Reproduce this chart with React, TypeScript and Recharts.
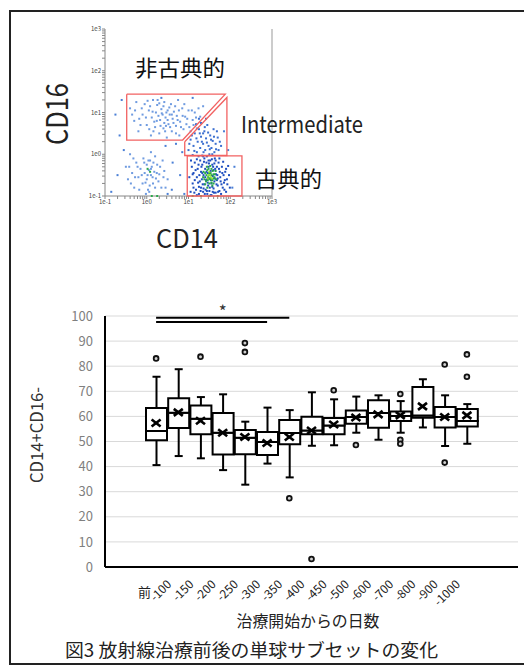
import {
  Bar,
  CartesianGrid,
  ComposedChart,
  ReferenceLine,
  Scatter,
  ScatterChart,
  XAxis,
  YAxis,
} from 'recharts';

// ---- flow plot (log10 units) ----
const decades = [-1, 0, 1, 2];
const minorSteps = [0.301, 0.477, 0.602, 0.699, 0.778, 0.845, 0.903, 0.954];

const classicalCells = [
  [1.05, -0.9], [1.1, -0.7], [1.12, -0.45], [1.15, -0.2], [1.18, -0.85], [1.2, -0.55], [1.22, -0.35],
  [1.25, -0.95], [1.27, -0.65], [1.28, -0.15], [1.3, -0.8], [1.3, -0.42], [1.32, -0.6], [1.33, -0.25],
  [1.35, -0.9], [1.36, -0.5], [1.38, -0.72], [1.38, -0.1], [1.4, -0.35], [1.41, -0.85], [1.42, -0.62],
  [1.43, -0.2], [1.45, -0.95], [1.46, -0.45], [1.47, -0.75], [1.48, -0.3], [1.5, -0.88], [1.5, -0.58],
  [1.52, -0.15], [1.53, -0.4], [1.55, -0.7], [1.55, -0.98], [1.57, -0.25], [1.58, -0.52], [1.6, -0.82],
  [1.6, -0.38], [1.62, -0.65], [1.63, -0.1], [1.65, -0.92], [1.66, -0.48], [1.68, -0.3], [1.7, -0.75],
  [1.7, -0.58], [1.72, -0.2], [1.74, -0.88], [1.75, -0.42], [1.77, -0.65], [1.8, -0.3], [1.82, -0.8],
  [1.84, -0.5], [1.87, -0.62], [1.9, -0.35], [1.93, -0.72], [1.97, -0.5], [1.08, -0.3], [1.15, -0.62],
  [1.25, -0.78], [1.35, -0.05], [1.45, -0.6], [1.58, -0.9], [1.65, -0.15], [1.78, -0.95], [1.9, -0.9],
  [1.02, -0.55], [1.12, -0.8], [1.17, -0.38], [1.2, -0.12], [1.23, -0.68], [1.26, -0.5], [1.29, -0.88],
  [1.31, -0.3], [1.34, -0.72], [1.37, -0.18], [1.39, -0.95], [1.4, -0.55], [1.43, -0.42], [1.44, -0.88],
  [1.46, -0.68], [1.49, -0.22], [1.51, -0.8], [1.54, -0.62], [1.56, -0.12], [1.57, -0.78], [1.59, -0.3],
  [1.61, -0.92], [1.63, -0.58], [1.64, -0.35], [1.67, -0.72], [1.69, -0.5], [1.71, -0.9], [1.73, -0.35],
  [1.76, -0.55], [1.79, -0.72], [1.81, -0.45], [1.83, -0.18], [1.86, -0.85], [1.88, -0.42], [1.92, -0.6],
  [1.95, -0.28], [1.99, -0.8], [1.06, -0.15], [1.1, -0.48], [1.14, -0.92], [1.24, -0.25], [1.33, -0.45],
  [1.36, -0.82], [1.44, -0.05], [1.53, -0.98], [1.62, -0.22], [1.68, -0.62], [1.74, -0.1], [1.85, -0.68],
  [1.2, -0.98], [1.48, -0.15],
];
const classicalCore = [
  [1.35, -0.55], [1.4, -0.45], [1.42, -0.65], [1.45, -0.38], [1.47, -0.55], [1.5, -0.7], [1.5, -0.45],
  [1.52, -0.6], [1.55, -0.5], [1.55, -0.35], [1.57, -0.62], [1.6, -0.48], [1.62, -0.55], [1.65, -0.4],
  [1.45, -0.8], [1.52, -0.28], [1.4, -0.72], [1.6, -0.7], [1.38, -0.6], [1.43, -0.5], [1.46, -0.62],
  [1.48, -0.35], [1.5, -0.58], [1.53, -0.45], [1.55, -0.68], [1.58, -0.4], [1.6, -0.58], [1.63, -0.48],
  [1.44, -0.3], [1.57, -0.75], [1.36, -0.42], [1.66, -0.6], [0.02, -0.35], [0.08, -0.42],
  [0.12, -1], [0.25, -1], [1.1, -1], [1.3, -1], [1.5, -1], [1.7, -1],
];
const classicalPeak = [[1.48, -0.5], [1.53, -0.55], [1.5, -0.42], [1.56, -0.58], [1.51, -0.5], [1.46, -0.58]];
const intermediateCells = [
  [1.0, 0.1], [1.05, 0.35], [1.1, -0.02], [1.12, 0.2], [1.15, 0.5], [1.2, 0.05], [1.22, 0.3], [1.25, 0.6],
  [1.28, 0.15], [1.3, 0.42], [1.33, -0.03], [1.35, 0.25], [1.38, 0.55], [1.4, 0.1], [1.42, 0.38],
  [1.45, 0.7], [1.48, 0.2], [1.5, 0.0], [1.52, 0.45], [1.55, 0.15], [1.58, 0.32], [1.6, 0.6], [1.62, 0.05],
  [1.65, 0.25], [1.7, 0.4], [1.72, 0.1], [1.78, 0.2], [1.3, 0.75], [1.25, 0.85], [1.18, 0.72],
  [1.02, 0.25], [1.08, 0.45], [1.14, 0.08], [1.19, 0.38], [1.24, -0.05], [1.27, 0.5], [1.32, 0.3],
  [1.36, 0.05], [1.39, 0.65], [1.44, 0.28], [1.47, 0.52], [1.51, 0.12], [1.54, 0.35], [1.57, 0.0],
  [1.61, 0.42], [1.66, 0.12], [1.68, 0.55], [1.75, 0.3], [1.42, 0.85], [1.35, 0.5],
];
const nonClassicalCells = [
  [-0.4, 1.1], [-0.3, 0.8], [-0.25, 1.25], [-0.2, 0.55], [-0.1, 0.95], [-0.05, 1.2], [0.0, 0.7],
  [0.05, 1.05], [0.1, 0.45], [0.12, 0.88], [0.15, 1.3], [0.2, 0.65], [0.22, 1.0], [0.25, 1.18], [0.3, 0.5],
  [0.32, 0.82], [0.35, 1.08], [0.38, 0.95], [0.4, 0.62], [0.42, 1.25], [0.45, 0.88], [0.48, 0.4],
  [0.5, 1.05], [0.52, 0.72], [0.55, 0.95], [0.58, 1.2], [0.6, 0.55], [0.62, 0.85], [0.65, 1.02],
  [0.7, 0.68], [0.72, 0.92], [0.75, 1.3], [0.78, 0.45], [0.8, 0.78], [0.85, 1.1], [0.88, 0.6],
  [0.92, 0.9], [0.95, 0.72], [1.0, 1.05], [1.05, 0.55], [1.1, 0.82], [1.15, 1.0], [1.2, 0.62],
  [1.28, 0.9], [1.35, 1.15], [0.18, 0.78], [0.28, 0.92], [0.42, 0.75], [0.08, 1.15], [-0.15, 0.7],
  [-0.35, 0.95], [-0.28, 1.05], [-0.18, 0.85], [-0.12, 1.1], [-0.02, 0.88], [0.02, 1.28], [0.06, 0.6],
  [0.14, 1.02], [0.16, 0.55], [0.24, 0.8], [0.26, 1.3], [0.33, 0.68], [0.36, 0.98], [0.4, 1.15],
  [0.44, 0.55], [0.47, 1.0], [0.5, 0.82], [0.54, 1.12], [0.56, 0.65], [0.6, 0.95], [0.64, 0.75],
  [0.68, 1.15], [0.7, 0.5], [0.74, 0.82], [0.77, 1.05], [0.82, 0.65], [0.86, 0.92], [0.9, 1.2],
  [0.97, 0.85], [1.02, 0.65], [1.08, 1.05], [1.12, 0.7], [1.18, 0.88], [1.24, 1.1], [0.3, 1.22], [0.46, 0.68],
];
const lymphCells = [
  [-0.5, -0.3], [-0.45, -0.6], [-0.4, 0.0], [-0.35, -0.45], [-0.3, -0.8], [-0.25, -0.2], [-0.2, -0.55],
  [-0.15, -0.35], [-0.1, -0.7], [-0.08, -0.1], [-0.05, -0.45], [0.0, -0.25], [0.0, -0.6], [0.03, -0.85],
  [0.05, -0.38], [0.08, -0.15], [0.1, -0.5], [0.12, -0.3], [0.15, -0.7], [0.18, -0.42], [0.2, -0.05],
  [0.22, -0.58], [0.25, -0.25], [0.3, -0.48], [0.35, -0.8], [0.38, -0.15], [0.42, -0.4], [0.5, -0.6],
  [-0.02, -0.95], [0.1, 0.05], [-0.42, -0.3], [-0.38, -0.7], [-0.28, -0.55], [-0.22, -0.3], [-0.18, -0.85],
  [-0.12, -0.5], [-0.06, -0.2], [-0.03, -0.68], [0.02, -0.5], [0.04, -0.15], [0.07, -0.75], [0.1, -0.35],
  [0.14, -0.55], [0.16, -0.2], [0.2, -0.8], [0.24, -0.45], [0.28, -0.65], [0.32, -0.3], [0.4, -0.55],
  [0.45, -0.8], [-0.32, -0.1], [0.06, -0.9],
];
const strayCells = [
  [-0.75, 0.95], [-0.65, 0.45], [-0.7, -0.5], [-0.55, 0.1], [0.45, 0.2], [0.62, -0.2], [0.7, 0.25],
  [0.8, -0.5], [0.85, 0.05], [0.6, -0.85], [-0.85, -0.9], [2.05, -0.8], [2.1, -0.3], [1.85, 0.55],
  [1.95, 0.1], [0.35, 1.35], [-0.6, 1.3], [0.9, -0.95], [0.5, -0.95], [1.1, 1.35],
];

const gateNonClassical = [[-0.48, 1.44], [1.88, 1.44], [0.86, 0.34], [-0.48, 0.34], [-0.48, 1.44]];
const gateIntermediate = [[0.91, 0.3], [1.92, 1.36], [1.92, -0.03], [0.91, -0.03], [0.91, 0.3]];
const gateClassical = [[0.97, -0.04], [2.28, -0.04], [2.28, -1], [0.97, -1], [0.97, -0.04]];

// ---- box plot ----
const categories = ['前', '-100', '-150', '-200', '-250', '-300', '-350', '-400', '-450', '-500', '-600', '-700', '-800', '-900', '-1000'];
const whiskerLow = [40.6, 44.2, 43.3, 38.6, 32.8, 41.2, 35.7, 48.3, 48.5, 53.5, 50.7, 53.5, 55.6, 48.2, 49.1];
const q1 = [50.5, 55.4, 52.9, 44.8, 44.9, 44.6, 48.9, 52.9, 52.9, 57.1, 55.5, 58.2, 59.5, 55.6, 56.0];
const medians = [54.2, 61.5, 59.1, 53.5, 51.5, 49.8, 53.4, 54.4, 56.4, 59.8, 61.4, 60.2, 60.4, 59.8, 58.2];
const q3 = [63.3, 67.2, 64.3, 61.4, 54.6, 53.8, 58.6, 59.9, 59.4, 62.4, 66.4, 62.0, 71.7, 63.7, 62.9];
const whiskerHigh = [75.8, 78.8, 67.7, 68.8, 57.9, 63.5, 62.5, 69.6, 66.8, 67.9, 68.4, 66.1, 74.8, 68.4, 64.9];
const means = [57.4, 61.6, 58.3, 53.5, 51.8, 49.4, 51.8, 54.4, 56.8, 59.6, 60.8, 60.4, 64.0, 59.8, 60.4];
const outliers = [[83.1], [], [83.8], [], [89.2, 85.7], [], [27.4], [3.2], [70.4], [48.6], [], [68.9, 50.7, 49.1], [], [80.7, 41.6], [84.7, 75.8]];
const yTicks = [0, 10, 20, 30, 40, 50, 60, 70, 80, 90, 100];

const boxData = categories.map((cat, i) => ({
  cat,
  base: whiskerLow[i],
  lowW: q1[i] - whiskerLow[i],
  boxLo: medians[i] - q1[i],
  boxHi: q3[i] - medians[i],
  highW: whiskerHigh[i] - q3[i],
  mean: means[i],
  out1: outliers[i][0] ?? null,
  out2: outliers[i][1] ?? null,
  out3: outliers[i][2] ?? null,
}));

const toPts = (arr: number[][]) => arr.map(([x, y]) => ({ x, y }));
const flowTicks = [...decades.flatMap((d) => [d, ...minorSteps.map((m) => d + m)]), 3];
const fmtLog = (v: number) => (Number.isInteger(v) ? `1e${v}` : '');

const dot = (color: string) => (p: any) =>
  p.cx == null ? <g /> : <rect x={p.cx - 1} y={p.cy - 1} width={2} height={2} fill={color} />;

const LowWhisker = (p: any) => {
  const cx = p.x + p.width / 2;
  return (
    <g stroke="#000" strokeWidth={2}>
      <line x1={cx} y1={p.y} x2={cx} y2={p.y + p.height} />
      <line x1={cx - 4} y1={p.y + p.height} x2={cx + 4} y2={p.y + p.height} />
    </g>
  );
};
const HighWhisker = (p: any) => {
  const cx = p.x + p.width / 2;
  return (
    <g stroke="#000" strokeWidth={2}>
      <line x1={cx} y1={p.y} x2={cx} y2={p.y + p.height} />
      <line x1={cx - 4} y1={p.y} x2={cx + 4} y2={p.y} />
    </g>
  );
};
const MeanMark = (p: any) => {
  if (p.cx == null || p.cy == null || isNaN(p.cy)) return <g />;
  const s = 4.5;
  return (
    <g stroke="#000" strokeWidth={2.6}>
      <line x1={p.cx - s} y1={p.cy - s + 1} x2={p.cx + s} y2={p.cy + s - 1} />
      <line x1={p.cx - s} y1={p.cy + s - 1} x2={p.cx + s} y2={p.cy - s + 1} />
    </g>
  );
};
const outlierMark = (key: string) => (p: any) => {
  if (p.payload == null || p.payload[key] == null || isNaN(p.cy)) return <g />;
  return <circle cx={p.cx} cy={p.cy} r={2.4} fill="#d0d0d0" stroke="#111" strokeWidth={1.8} />;
};

const DayTick = ({ x, y, payload }: any) => {
  if (payload.value === '前') {
    return (
      <text x={x - 5} y={y + 30} textAnchor="end" fontSize={13} fill="#222">
        前
      </text>
    );
  }
  const ax = x - 6;
  const ay = y + 18;
  return (
    <text x={ax} y={ay} textAnchor="end" fontSize={12} fill="#222" transform={`rotate(-45 ${ax} ${ay})`}>
      {payload.value}
    </text>
  );
};

const font = '"Noto Sans CJK JP", "Noto Sans", sans-serif';

export default function App() {
  return (
    <div style={{ position: 'absolute', left: 0, top: 0, width: 524, height: 667, background: '#fff', fontFamily: font, overflow: 'hidden' }}>
      <div
        style={{ position: 'absolute', left: 9, top: 10, width: 530, height: 655, border: '2px solid #222', boxSizing: 'border-box' }}
      />

      <div style={{ position: 'absolute', left: 0, top: 0 }}>
        <ScatterChart width={290} height={230} margin={{ top: 29, right: 18, bottom: 22, left: 85 }}>
          <XAxis
            type="number"
            dataKey="x"
            domain={[-1, 3]}
            ticks={flowTicks}
            tickFormatter={fmtLog}
            interval={0}
            height={12}
            tickSize={3}
            tickMargin={1}
            stroke="#888"
            tick={{ fontSize: 6, fill: '#444' }}
          />
          <YAxis
            type="number"
            dataKey="y"
            domain={[-1, 3]}
            ticks={flowTicks}
            tickFormatter={fmtLog}
            interval={0}
            width={20}
            tickSize={3}
            tickMargin={1}
            stroke="#888"
            tick={{ fontSize: 6, fill: '#444' }}
          />
          <ReferenceLine x={3} stroke="#999" />
          <Scatter data={toPts(nonClassicalCells)} fill="#6f9be0" shape={dot('#6f9be0')} isAnimationActive={false} />
          <Scatter data={toPts(lymphCells)} fill="#6f9be0" shape={dot('#6f9be0')} isAnimationActive={false} />
          <Scatter data={toPts(strayCells)} fill="#4a7fd6" shape={dot('#4a7fd6')} isAnimationActive={false} />
          <Scatter data={toPts(intermediateCells)} fill="#3b6fd0" shape={dot('#3b6fd0')} isAnimationActive={false} />
          <Scatter data={toPts(classicalCells)} fill="#1f4fc0" shape={dot('#1f4fc0')} isAnimationActive={false} />
          <Scatter data={toPts(classicalCore)} fill="#2aa84a" shape={dot('#2aa84a')} isAnimationActive={false} />
          <Scatter data={toPts(classicalPeak)} fill="#8fe03a" shape={dot('#8fe03a')} isAnimationActive={false} />
          {[gateNonClassical, gateIntermediate, gateClassical].map((g, i) => (
            <Scatter
              key={i}
              data={toPts(g)}
              line={{ stroke: '#f26262', strokeWidth: 1.3 }}
              shape={() => <g />}
              isAnimationActive={false}
            />
          ))}
        </ScatterChart>
      </div>

      <div style={{ position: 'absolute', left: 0, top: 290 }}>
        <ComposedChart width={524} height={340} data={boxData} margin={{ top: 26, right: 6, bottom: 13, left: 65 }}>
          <CartesianGrid vertical={false} stroke="#d9d9d9" />
          <XAxis
            dataKey="cat"
            type="category"
            padding={{ left: 40, right: 40 }}
            height={50}
            interval={0}
            tickLine={false}
            tickSize={0}
            tickMargin={0}
            axisLine={{ stroke: '#000', strokeWidth: 2 }}
            tick={<DayTick />}
          />
          <YAxis
            domain={[0, 100]}
            ticks={yTicks}
            interval={0}
            width={40}
            tickLine={false}
            tickSize={0}
            tickMargin={12}
            axisLine={{ stroke: '#000', strokeWidth: 2 }}
            tick={{ fontSize: 13, fill: '#7f7f7f' }}
          />
          <Bar dataKey="base" stackId="b" fill="transparent" barSize={21} isAnimationActive={false} />
          <Bar dataKey="lowW" stackId="b" shape={<LowWhisker />} barSize={21} isAnimationActive={false} />
          <Bar dataKey="boxLo" stackId="b" fill="#fff" stroke="#000" strokeWidth={2} barSize={21} isAnimationActive={false} />
          <Bar dataKey="boxHi" stackId="b" fill="#fff" stroke="#000" strokeWidth={2} barSize={21} isAnimationActive={false} />
          <Bar dataKey="highW" stackId="b" shape={<HighWhisker />} barSize={21} isAnimationActive={false} />
          <Scatter dataKey="mean" shape={<MeanMark />} isAnimationActive={false} />
          <Scatter dataKey="out1" shape={outlierMark('out1')} isAnimationActive={false} />
          <Scatter dataKey="out2" shape={outlierMark('out2')} isAnimationActive={false} />
          <Scatter dataKey="out3" shape={outlierMark('out3')} isAnimationActive={false} />
          <ReferenceLine
            segment={[{ x: '前', y: 99.3 }, { x: '-350', y: 99.3 }]}
            stroke="#000"
            strokeWidth={1.8}
            label={{ value: '*', position: 'top', fontSize: 17, fill: '#333', offset: 0 }}
          />
          <ReferenceLine segment={[{ x: '前', y: 97.6 }, { x: '-300', y: 97.6 }]} stroke="#000" strokeWidth={1.8} />
        </ComposedChart>
      </div>

      <svg width={524} height={667} style={{ position: 'absolute', left: 0, top: 0, pointerEvents: 'none' }} fontFamily={font}>
        <text x={135} y={75.5} fontSize={22} fill="#111" textLength={90} lengthAdjust="spacingAndGlyphs">非古典的</text>
        <text x={241} y={133} fontSize={23} fill="#222" textLength={122} lengthAdjust="spacingAndGlyphs">Intermediate</text>
        <text x={255} y={187} fontSize={22} fill="#111" textLength={67} lengthAdjust="spacingAndGlyphs">古典的</text>
        <text x={68} y={114} fontSize={30} fill="#222" textAnchor="middle" textLength={62} lengthAdjust="spacingAndGlyphs" transform="rotate(-90 68 114)">CD16</text>
        <text x={156} y={248} fontSize={26} fill="#222" textLength={62} lengthAdjust="spacingAndGlyphs">CD14</text>
        <text x={43} y={435} fontSize={17} fill="#333" textAnchor="middle" textLength={96} lengthAdjust="spacingAndGlyphs" transform="rotate(-90 43 435)">CD14+CD16-</text>
        <text x={308} y={627} fontSize={16} fill="#222" textAnchor="middle" textLength={143} lengthAdjust="spacingAndGlyphs">治療開始からの日数</text>
        <text x={65} y={657} fontSize={18} fill="#222" textLength={373} lengthAdjust="spacingAndGlyphs">図3 放射線治療前後の単球サブセットの変化</text>
      </svg>
    </div>
  );
}
